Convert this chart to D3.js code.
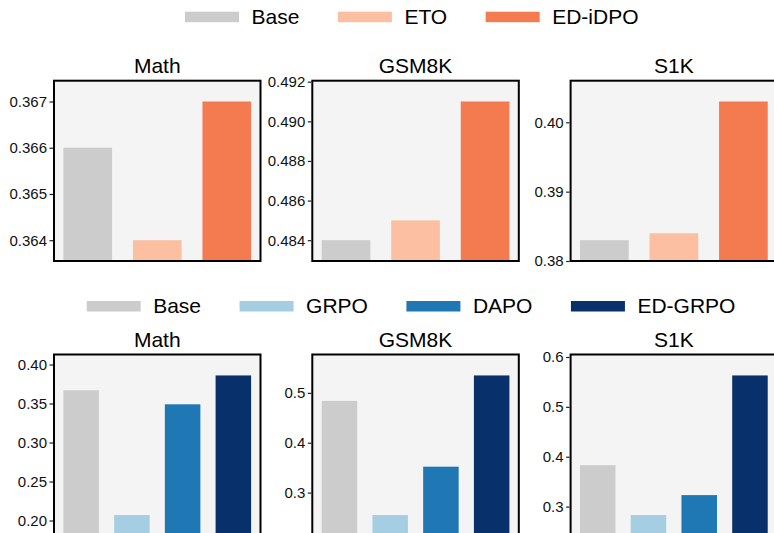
<!DOCTYPE html>
<html><head><meta charset="utf-8">
<script src="https://cdn.jsdelivr.net/npm/d3@7"></script>
<style>
html,body{margin:0;padding:0;background:#fff;}
svg{display:block;font-family:"Liberation Sans",Arial,Helvetica,sans-serif;}
</style></head>
<body>
<svg id="chart" width="774" height="533"></svg>
<script>
// ---- data ----
const datasets = ["Math", "GSM8K", "S1K"];
const topMethods = ["Base", "ETO", "ED-iDPO"];
const topColors = ["#cccccc", "#fcbfa2", "#f47b50"];
const topValues = [
  [0.366, 0.364, 0.367],
  [0.484, 0.485, 0.491],
  [0.383, 0.384, 0.403]
];
const topTicks = [
  [0.364, 0.365, 0.366, 0.367],
  [0.484, 0.486, 0.488, 0.490, 0.492],
  [0.38, 0.39, 0.40]
];
const topTickFormats = [".3f", ".3f", ".2f"];

const botMethods = ["Base", "GRPO", "DAPO", "ED-GRPO"];
const botColors = ["#cccccc", "#a6cee3", "#1f77b4", "#08306b"];
const botValues = [
  [0.367, 0.207, 0.349, 0.386],
  [0.484, 0.255, 0.352, 0.535],
  [0.383, 0.283, 0.323, 0.563]
];
const botTicks = [
  [0.20, 0.25, 0.30, 0.35, 0.40],
  [0.3, 0.4, 0.5],
  [0.3, 0.4, 0.5, 0.6]
];
const botTickFormats = [".2f", ".1f", ".1f"];

// ---- layout ----
const svg = d3.select("#chart");
const panelLefts = [54, 312.3, 570.6];
const panelW = 206.5;
const rows = [
  {top: 80.7, bottom: 261, titleY: 73.3, legendY: 11.7, legendX: 185,
   methods: topMethods, colors: topColors, values: topValues, ticks: topTicks, fmts: topTickFormats},
  {top: 354.5, bottom: 536, titleY: 347.3, legendY: 301, legendX: 86.7,
   methods: botMethods, colors: botColors, values: botValues, ticks: botTicks, fmts: botTickFormats}
];

rows.forEach(row => {
  // legend
  const lg = svg.append("g");
  let x = row.legendX;
  row.methods.forEach((m, i) => {
    lg.append("rect").attr("x", x).attr("y", row.legendY).attr("width", 54).attr("height", 10.5)
      .attr("fill", row.colors[i]);
    const t = lg.append("text").attr("x", x + 54 + 12.5).attr("y", row.legendY + 12.3)
      .attr("font-size", 21).attr("fill", "#000").text(m);
    const w = t.node().getComputedTextLength();
    x = x + 54 + 12.5 + w + 38.5;
  });

  datasets.forEach((ds, di) => {
    const vals = row.values[di];
    const n = vals.length;
    const left = panelLefts[di], right = left + panelW;
    const mn = d3.min(vals), mx = d3.max(vals), r = mx - mn;
    const y = d3.scaleLinear().domain([mn - 0.15 * r, mx + 0.15 * r]).range([row.bottom, row.top]);
    const span = (n - 1) + 0.7;
    const x = d3.scaleLinear().domain([-0.35 - 0.05 * span, n - 1 + 0.35 + 0.05 * span]).range([left, right]);
    const bw = x(0.7) - x(0);
    const g = svg.append("g");
    g.append("rect").attr("x", left).attr("y", row.top).attr("width", panelW)
      .attr("height", row.bottom - row.top).attr("fill", "#f4f4f4");
    g.selectAll(".bar").data(vals).join("rect")
      .attr("x", (d, i) => x(i) - bw / 2)
      .attr("width", bw)
      .attr("y", d => y(d))
      .attr("height", d => row.bottom - y(d))
      .attr("fill", (d, i) => row.colors[i]);
    // frame
    g.append("rect").attr("x", left).attr("y", row.top).attr("width", panelW)
      .attr("height", row.bottom - row.top).attr("fill", "none")
      .attr("stroke", "#000").attr("stroke-width", 2);
    // y axis
    const ax = g.append("g").attr("transform", `translate(${left - 1},0)`)
      .call(d3.axisLeft(y).tickValues(row.ticks[di]).tickFormat(d3.format(row.fmts[di]))
        .tickSize(3.5).tickPadding(2.5));
    ax.select(".domain").remove();
    ax.selectAll("text").attr("font-size", 15).attr("fill", "#111")
      .attr("font-family", "'Liberation Sans',Arial,sans-serif");
    ax.selectAll("line").attr("stroke", "#222").attr("stroke-width", 1.2);
    // title
    g.append("text").attr("x", (left + right) / 2).attr("y", row.titleY)
      .attr("text-anchor", "middle").attr("font-size", 21).attr("fill", "#000").text(ds);
  });
});
</script>
</body></html>
